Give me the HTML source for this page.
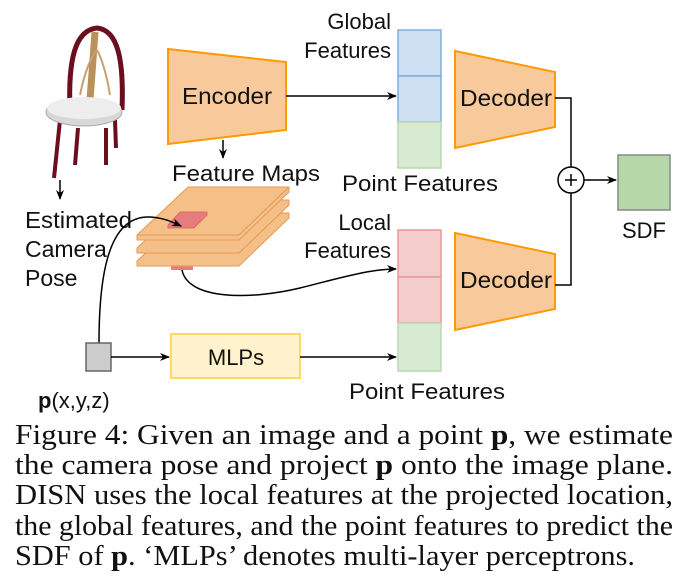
<!DOCTYPE html>
<html><head><meta charset="utf-8"><style>
html,body{margin:0;padding:0;background:#fff;}
svg{display:block;}
.s{font-family:"Liberation Sans",sans-serif;fill:#111;}
.c{font-family:"Liberation Serif",serif;fill:#111;font-size:29px;}
</style></head><body>
<svg width="693" height="586" viewBox="0 0 693 586" xmlns="http://www.w3.org/2000/svg">
<defs>
<marker id="a" markerWidth="10" markerHeight="8" refX="9" refY="4" orient="auto" markerUnits="userSpaceOnUse"><path d="M0,0 L10,4 L0,8 L3,4 z" fill="#000"/></marker>
</defs>
<!-- chair -->
<g>
<path d="M70,110 C68,60 75,30 97,28 C118,30 124,60 122,110" fill="none" stroke="#6b0f1f" stroke-width="5"/>
<path d="M95,32 L90,100" stroke="#b8925a" stroke-width="7"/>
<path d="M80,95 C85,70 92,55 97,50 M110,95 C106,70 100,55 97,50" stroke="#c8a070" stroke-width="2" fill="none"/>
<path d="M54,178 L60,120 M75,165 L78,128 M106,165 L106,128 M116,148 L115,120" stroke="#6b0f1f" stroke-width="4" fill="none"/>
<ellipse cx="84" cy="112" rx="38" ry="14" fill="#d8d8d8" stroke="#aaa"/>
<ellipse cx="84" cy="108" rx="37" ry="11" fill="#eeeeee"/>
</g>
<line x1="60" y1="180" x2="60" y2="199" stroke="#000" stroke-width="1.5" marker-end="url(#a)"/>
<text class="s" font-size="23" x="25" y="228" textLength="107" lengthAdjust="spacingAndGlyphs">Estimated</text>
<text class="s" font-size="23" x="25" y="257">Camera</text>
<text class="s" font-size="23" x="25" y="286">Pose</text>

<!-- encoder -->
<polygon points="168,49 286,62 286,130 168,144" fill="#f8c99a" stroke="#ff9900" stroke-width="2"/>
<text class="s" font-size="23" x="182" y="104" textLength="90" lengthAdjust="spacingAndGlyphs">Encoder</text>
<line x1="223" y1="140" x2="223" y2="158" stroke="#000" stroke-width="1.5" marker-end="url(#a)"/>
<text class="s" font-size="22" x="172" y="181" textLength="148" lengthAdjust="spacingAndGlyphs">Feature Maps</text>
<line x1="286" y1="96" x2="396" y2="96" stroke="#000" stroke-width="1.5" marker-end="url(#a)"/>

<!-- feature maps -->
<rect x="171" y="263" width="22" height="7" fill="#e67c7c"/>
<g fill="#f5bf88" stroke="#e69a55" stroke-width="1">
<polygon points="188,213 289,213 289,218 239,266 137,266 137,261"/>
<polygon points="188,200 289,200 289,205 239,253 137,253 137,248"/>
<polygon points="188,187 289,187 289,192 239,240 137,240 137,235"/>
</g>
<line x1="137" y1="235" x2="239" y2="235" stroke="#e69a55"/>
<line x1="239" y1="235" x2="289" y2="187" stroke="#e69a55"/>
<polygon points="180,212 207,212 207,215 194,228 168,228 168,225" fill="#e67c7c" stroke="#d86060" stroke-width="0.8"/>

<!-- curves -->
<path d="M99,343 C99,270 110,215 150,217 C165,218 172,222 181,226" fill="none" stroke="#000" stroke-width="1.5" marker-end="url(#a)"/>
<path d="M182,270 C188,300 250,300 300,288 C340,278 370,269 396,269" fill="none" stroke="#000" stroke-width="1.5" marker-end="url(#a)"/>

<!-- p square & MLPs -->
<rect x="86" y="343" width="25" height="28" fill="#cccccc" stroke="#666" stroke-width="1.5"/>
<line x1="111" y1="357" x2="169" y2="357" stroke="#000" stroke-width="1.5" marker-end="url(#a)"/>
<rect x="171" y="334" width="129" height="44" fill="#fff2cc" stroke="#ffd966" stroke-width="2"/>
<text class="s" font-size="22" x="236" y="365" text-anchor="middle">MLPs</text>
<line x1="300" y1="357" x2="396" y2="357" stroke="#000" stroke-width="1.5" marker-end="url(#a)"/>
<text class="s" font-size="22" x="38" y="408"><tspan font-weight="bold">p</tspan>(x,y,z)</text>

<!-- global column -->
<rect x="398" y="30" width="43" height="46" fill="#cfe0f2" stroke="#7eaee0" stroke-width="1.5"/>
<rect x="398" y="76" width="43" height="46" fill="#cfe0f2" stroke="#7eaee0" stroke-width="1.5"/>
<rect x="398" y="122" width="43" height="46" fill="#d9ead3" stroke="#b9d9b0" stroke-width="1.5"/>
<text class="s" font-size="22" x="391" y="29" text-anchor="end">Global</text>
<text class="s" font-size="22" x="391" y="58" text-anchor="end">Features</text>
<text class="s" font-size="22" x="342" y="191" textLength="156" lengthAdjust="spacingAndGlyphs">Point Features</text>

<!-- local column -->
<rect x="398" y="230" width="43" height="47" fill="#f4cccc" stroke="#ea9999" stroke-width="1.5"/>
<rect x="398" y="277" width="43" height="46" fill="#f4cccc" stroke="#ea9999" stroke-width="1.5"/>
<rect x="398" y="323" width="43" height="48" fill="#d9ead3" stroke="#b9d9b0" stroke-width="1.5"/>
<text class="s" font-size="22" x="391" y="230" text-anchor="end">Local</text>
<text class="s" font-size="22" x="391" y="258" text-anchor="end">Features</text>
<text class="s" font-size="22" x="349" y="399" textLength="156" lengthAdjust="spacingAndGlyphs">Point Features</text>

<!-- decoders -->
<polygon points="455,51 555,72 555,127 455,148" fill="#f8c99a" stroke="#ff9900" stroke-width="2"/>
<text class="s" font-size="23" x="460" y="106" textLength="92" lengthAdjust="spacingAndGlyphs">Decoder</text>
<polygon points="455,233 555,254 555,309 455,330" fill="#f8c99a" stroke="#ff9900" stroke-width="2"/>
<text class="s" font-size="23" x="460" y="288" textLength="92" lengthAdjust="spacingAndGlyphs">Decoder</text>
<polyline points="555,98 571,98 571,167" fill="none" stroke="#000" stroke-width="1.5"/>
<polyline points="555,285 571,285 571,193" fill="none" stroke="#000" stroke-width="1.5"/>
<circle cx="571" cy="180" r="13" fill="#fff" stroke="#000" stroke-width="1.5"/>
<path d="M565,180 H577 M571,174 V186" stroke="#000" stroke-width="1.5"/>
<line x1="584" y1="180" x2="616" y2="180" stroke="#000" stroke-width="1.5" marker-end="url(#a)"/>
<rect x="618" y="155" width="52" height="55" fill="#b6d7a8" stroke="#888" stroke-width="1.5"/>
<text class="s" font-size="22" x="644" y="238" text-anchor="middle">SDF</text>

<!-- caption -->
<text class="c" x="15" y="444" textLength="658" lengthAdjust="spacingAndGlyphs">Figure 4: Given an image and a point <tspan font-weight="bold">p</tspan>, we estimate</text>
<text class="c" x="15" y="474" textLength="658" lengthAdjust="spacingAndGlyphs">the camera pose and project <tspan font-weight="bold">p</tspan> onto the image plane.</text>
<text class="c" x="15" y="504" textLength="658" lengthAdjust="spacingAndGlyphs">DISN uses the local features at the projected location,</text>
<text class="c" x="15" y="535" textLength="658" lengthAdjust="spacingAndGlyphs">the global features, and the point features to predict the</text>
<text class="c" x="15" y="565" textLength="620" lengthAdjust="spacingAndGlyphs">SDF of <tspan font-weight="bold">p</tspan>. ‘MLPs’ denotes multi-layer perceptrons.</text>
</svg>
</body></html>
